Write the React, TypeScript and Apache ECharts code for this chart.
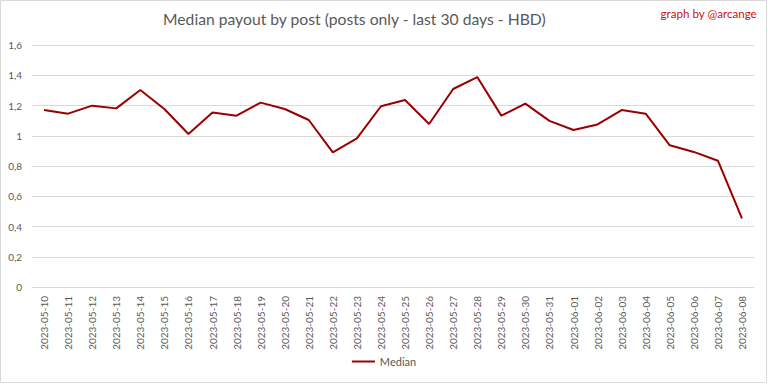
import React, { useEffect, useRef } from "react";
import * as echarts from "echarts";

const categories = [
  "2023-05-10", "2023-05-11", "2023-05-12", "2023-05-13", "2023-05-14", "2023-05-15",
  "2023-05-16", "2023-05-17", "2023-05-18", "2023-05-19", "2023-05-20", "2023-05-21",
  "2023-05-22", "2023-05-23", "2023-05-24", "2023-05-25", "2023-05-26", "2023-05-27",
  "2023-05-28", "2023-05-29", "2023-05-30", "2023-05-31", "2023-06-01", "2023-06-02",
  "2023-06-03", "2023-06-04", "2023-06-05", "2023-06-06", "2023-06-07", "2023-06-08",
];

const medianValues = [
  1.17, 1.146, 1.199, 1.181, 1.302, 1.177,
  1.012, 1.153, 1.133, 1.219, 1.177, 1.104,
  0.89, 0.983, 1.195, 1.236, 1.078, 1.309,
  1.388, 1.133, 1.212, 1.098, 1.038, 1.075,
  1.17, 1.146, 0.937, 0.893, 0.835, 0.454,
];

const titleText = "Median payout by post (posts only - last 30 days - HBD)";
const creditText = "graph by @arcange";
const seriesName = "Median";

const FONT = "Lato";

export default function App() {
  const ref = useRef<HTMLDivElement>(null);
  useEffect(() => {
    if (!ref.current) return;
    const chart = echarts.init(ref.current, null, { renderer: "svg" });
    chart.setOption({
      animation: false,
      backgroundColor: "#ffffff",
      textStyle: { fontFamily: FONT },
      title: {
        text: titleText,
        left: 158,
        top: 6,
        textStyle: { fontFamily: FONT, fontSize: 15.7, fontWeight: "normal", color: "#595959" },
      },
      graphic: [
        {
          type: "rect",
          shape: { x: 0.5, y: 0.5, width: 766, height: 382 },
          style: { fill: "none", stroke: "#d9d9d9", lineWidth: 1 },
          silent: true,
        },
        {
          type: "text",
          right: 11,
          top: 7,
          style: { text: creditText, fill: "#cc1111", font: `11.6px ${FONT}` },
        },
      ],
      legend: {
        data: [seriesName],
        bottom: 12,
        left: "center",
        icon: "rect",
        itemWidth: 23,
        itemHeight: 2,
        itemGap: 4,
        textStyle: { fontFamily: FONT, fontSize: 11, color: "#595959" },
      },
      grid: { left: 32, right: 14, top: 45, bottom: 97, containLabel: false },
      xAxis: {
        type: "category",
        data: categories,
        boundaryGap: true,
        axisLine: { lineStyle: { color: "#d9d9d9" } },
        axisTick: { show: false },
        axisLabel: {
          rotate: 90,
          interval: 0,
          margin: 9,
          color: "#595959",
          fontSize: 10,
          fontFamily: FONT,
        },
      },
      yAxis: {
        type: "value",
        min: 0,
        max: 1.6,
        interval: 0.2,
        axisLine: { show: false },
        axisTick: { show: false },
        splitLine: { lineStyle: { color: "#d9d9d9", width: 1 } },
        axisLabel: {
          margin: 10,
          color: "#595959",
          fontSize: 10,
          fontFamily: FONT,
          formatter: (v: number) => String(Math.round(v * 10) / 10).replace(".", ","),
        },
      },
      series: [
        {
          name: seriesName,
          type: "line",
          data: medianValues,
          symbol: "none",
          lineStyle: { color: "#990000", width: 2 },
          itemStyle: { color: "#990000" },
        },
      ],
    });
    return () => chart.dispose();
  }, []);
  return (
    <div
      ref={ref}
      style={{ position: "absolute", left: 0, top: 0, width: 768, height: 384 }}
    />
  );
}
